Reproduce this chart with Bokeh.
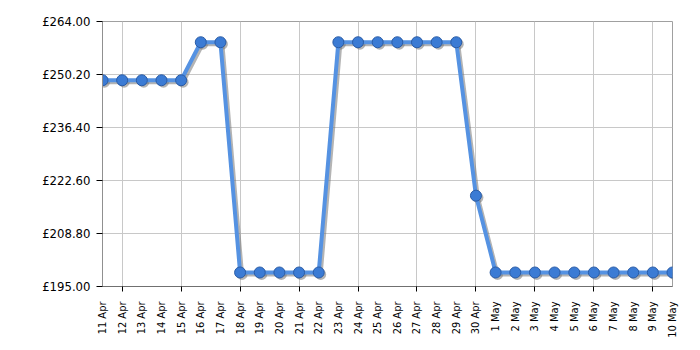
import math
from bokeh.plotting import figure
from bokeh.models import ColumnDataSource, FixedTicker, LinearAxis, Range1d
from bokeh.embed import file_html
from bokeh.resources import INLINE
from bokeh.transform import dodge

dates = ["11 Apr", "12 Apr", "13 Apr", "14 Apr", "15 Apr", "16 Apr", "17 Apr",
         "18 Apr", "19 Apr", "20 Apr", "21 Apr", "22 Apr", "23 Apr", "24 Apr",
         "25 Apr", "26 Apr", "27 Apr", "28 Apr", "29 Apr", "30 Apr", "1 May",
         "2 May", "3 May", "4 May", "5 May", "6 May", "7 May", "8 May", "9 May",
         "10 May"]
prices = [248.70, 248.70, 248.70, 248.70, 248.70, 258.60, 258.60,
          198.65, 198.65, 198.65, 198.65, 198.65, 258.60, 258.60,
          258.60, 258.60, 258.60, 258.60, 258.60, 218.65, 198.65,
          198.65, 198.65, 198.65, 198.65, 198.65, 198.65, 198.65, 198.65,
          198.65]
y_ticks = [195.00, 208.80, 222.60, 236.40, 250.20, 264.00]
y_labels = ["£195.00", "£208.80", "£222.60", "£236.40", "£250.20", "£264.00"]
grid_days = ["12 Apr", "15 Apr", "18 Apr", "21 Apr", "24 Apr", "27 Apr",
             "30 Apr", "3 May", "6 May", "9 May"]

idx = list(range(len(dates)))
src = ColumnDataSource(data=dict(x=idx, y=prices))

FONT = "DejaVu Sans Condensed"

p = figure(width=700, height=350, output_backend="svg", toolbar_location=None,
           x_range=Range1d(0, len(dates) - 1), y_range=Range1d(y_ticks[0], y_ticks[-1]),
           x_axis_location=None, min_border_left=102, min_border_right=28,
           min_border_top=21, min_border_bottom=64)
p.background_fill_color = "white"
p.border_fill_color = "white"
p.outline_line_color = "#a0a0a0"

# y axis
p.yaxis.ticker = FixedTicker(ticks=y_ticks)
p.yaxis.major_label_overrides = {t: l for t, l in zip(y_ticks, y_labels)}
p.yaxis.major_label_text_font = FONT
p.yaxis.major_label_text_font_size = "13px"
p.yaxis.major_label_text_color = "black"
p.yaxis.axis_line_color = "#909090"
p.yaxis.major_tick_line_color = "black"
p.yaxis.major_tick_in = 0
p.yaxis.major_tick_out = 6
p.yaxis.minor_tick_line_color = None
p.yaxis.major_label_standoff = 6
p.ygrid.grid_line_color = "#c8c8c8"

grid_ticks = [dates.index(d) for d in grid_days]

# x axis with tick marks only (every 3 days)
xt = LinearAxis(ticker=FixedTicker(ticks=grid_ticks))
xt.major_label_overrides = {t: "" for t in grid_ticks}
xt.major_label_text_font_size = "1px"
xt.major_label_standoff = 0
xt.axis_line_color = "#707070"
xt.major_tick_line_color = "black"
xt.major_tick_in = 0
xt.major_tick_out = 5
xt.minor_tick_line_color = None
p.add_layout(xt, "below")

# x axis with labels for every day
xl = LinearAxis(ticker=FixedTicker(ticks=idx))
xl.major_label_overrides = {i: d for i, d in zip(idx, dates)}
xl.major_label_orientation = math.pi / 2
xl.major_label_text_font = FONT
xl.major_label_text_font_size = "11px"
xl.major_label_text_color = "black"
xl.major_label_standoff = 4
xl.axis_line_color = None
xl.major_tick_line_color = None
xl.minor_tick_line_color = None
p.add_layout(xl, "below")

p.xgrid.ticker = FixedTicker(ticks=grid_ticks)
p.xgrid.grid_line_color = "#c8c8c8"

# shadow
p.line(dodge("x", 0.1, range=p.x_range), dodge("y", -0.5, range=p.y_range), source=src,
       line_width=4, line_color="#777777", line_alpha=0.55)
p.scatter(dodge("x", 0.1, range=p.x_range), dodge("y", -0.5, range=p.y_range), source=src,
          size=11, fill_color="#777777", fill_alpha=0.55, line_color=None)
# main line
p.line("x", "y", source=src, line_width=4, line_color="#5592e2")
p.scatter("x", "y", source=src, size=11, fill_color="#3b7bd4",
          line_color="#2a5ca6", line_width=1)

open("out.html", "w").write(file_html(p, INLINE))
